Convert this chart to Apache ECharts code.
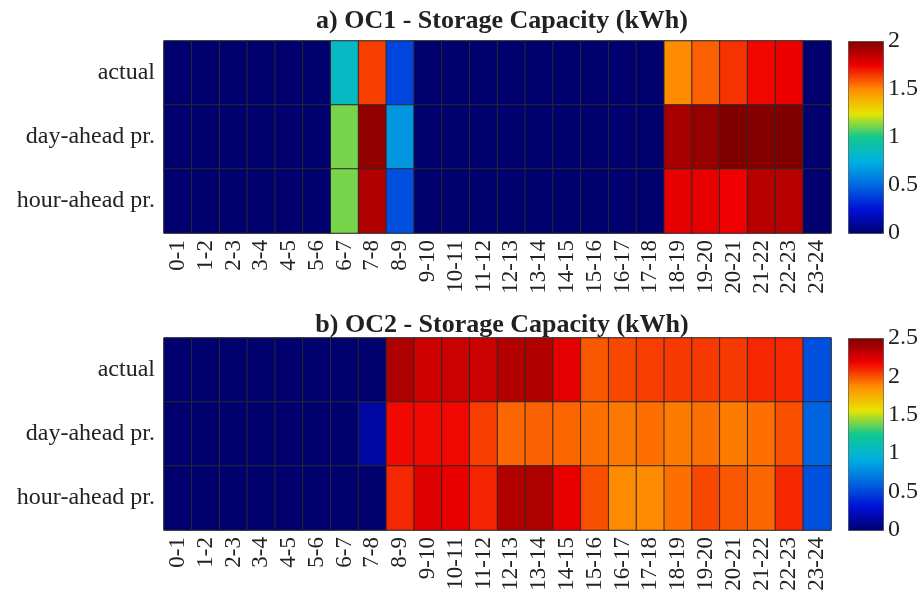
<!DOCTYPE html>
<html><head><meta charset="utf-8">
<script src="https://cdn.jsdelivr.net/npm/echarts@6/dist/echarts.min.js"></script>
<style>html,body{margin:0;padding:0;background:#fff}#c{width:921px;height:598px}</style>
</head><body><div id="c"></div>
<script>
const hours = ['0-1','1-2','2-3','3-4','4-5','5-6','6-7','7-8','8-9','9-10','10-11','11-12','12-13','13-14','14-15','15-16','16-17','17-18','18-19','19-20','20-21','21-22','22-23','23-24'];
const rows = ['actual','day-ahead pr.','hour-ahead pr.'];
const titleA = 'a) OC1 - Storage Capacity (kWh)';
const titleB = 'b) OC2 - Storage Capacity (kWh)';
const maxA = 2, maxB = 2.5;

// OC1
const oc1Actual   = [0,0,0,0,0,0,0.84,1.64,0.40,0,0,0,0,0,0,0,0,0,1.50,1.58,1.66,1.74,1.76,0];
const oc1DayAhead = [0,0,0,0,0,0,1.12,1.96,0.66,0,0,0,0,0,0,0,0,0,1.91,1.95,2.00,1.99,2.00,0];
const oc1HourAhead= [0,0,0,0,0,0,1.12,1.89,0.43,0,0,0,0,0,0,0,0,0,1.77,1.77,1.75,1.88,1.88,0];
// OC2
const oc2Actual   = [0,0,0,0,0,0,0,0,2.37,2.28,2.29,2.29,2.36,2.36,2.22,1.99,2.03,2.05,2.06,2.06,2.06,2.10,2.10,0.54];
const oc2DayAhead = [0,0,0,0,0,0,0,0.15,2.17,2.17,2.17,2.05,1.96,1.97,1.96,1.94,1.92,1.94,1.91,1.94,1.91,1.94,2.01,0.61];
const oc2HourAhead= [0,0,0,0,0,0,0,0,2.10,2.24,2.21,2.11,2.36,2.37,2.21,2.01,1.875,1.875,1.94,2.03,1.99,1.96,2.10,0.54];

const jet = ['#00006e','#0010d8','#0068e0','#00b0e0','#10c890','#e8e400','#ff8c00','#f00000','#800000'];
const serif = '"Liberation Serif","DejaVu Serif",serif';

function cells(list){
  const out=[];
  list.forEach((arr,r)=>arr.forEach((v,c)=>out.push([c,r,v])));
  return out;
}
const chart = echarts.init(document.getElementById('c'));
const L=164, W=667, H=192, TA=41, TB=338, CB=848, CBW=35;
const textCol='#222';
function xAx(gi){return {type:'category',gridIndex:gi,data:hours,axisTick:{show:false},axisLine:{show:false},
  axisLabel:{rotate:90,fontFamily:serif,fontSize:23,color:textCol,margin:7,interval:0},splitArea:{show:false}};}
function yAx(gi){return {type:'category',gridIndex:gi,data:rows,inverse:true,axisTick:{show:false},axisLine:{show:false},
  axisLabel:{fontFamily:serif,fontSize:24,color:textCol,margin:9},splitArea:{show:false}};}
function cbY(gi,max){return {type:'value',gridIndex:gi,min:0,max:max,interval:0.5,position:'right',
  axisLine:{show:false},axisTick:{show:false},splitLine:{show:false},
  axisLabel:{fontFamily:serif,fontSize:24,color:textCol,margin:6}};}
chart.setOption({
  animation:false,
  backgroundColor:'#fff',
  title:[
    {text:titleA,left:497,top:3,textAlign:'center',textStyle:{fontFamily:serif,fontSize:26,fontWeight:'bold',color:textCol}},
    {text:titleB,left:497,top:307,textAlign:'center',textStyle:{fontFamily:serif,fontSize:26,fontWeight:'bold',color:textCol}}
  ],
  grid:[
    {left:L,top:TA,width:W,height:H,show:true,borderColor:'#777',borderWidth:1,backgroundColor:'transparent'},
    {left:L,top:TB,width:W,height:H,show:true,borderColor:'#777',borderWidth:1,backgroundColor:'transparent'},
    {left:CB,top:TA,width:CBW,height:H},
    {left:CB,top:TB,width:CBW,height:H}
  ],
  xAxis:[xAx(0),xAx(1),
    {type:'value',gridIndex:2,show:false,min:0,max:1},
    {type:'value',gridIndex:3,show:false,min:0,max:1}],
  yAxis:[yAx(0),yAx(1),cbY(2,maxA),cbY(3,maxB)],
  visualMap:[
    {type:'continuous',seriesIndex:0,min:0,max:maxA,calculable:false,orient:'vertical',
     left:CB,top:TA,itemWidth:CBW,itemHeight:H,padding:0,borderWidth:1,borderColor:'#444',
     text:null,showLabel:false,inRange:{color:jet}},
    {type:'continuous',seriesIndex:1,min:0,max:maxB,calculable:false,orient:'vertical',
     left:CB,top:TB,itemWidth:CBW,itemHeight:H,padding:0,borderWidth:1,borderColor:'#444',
     text:null,showLabel:false,inRange:{color:jet}}
  ],
  series:[
    {type:'heatmap',xAxisIndex:0,yAxisIndex:0,data:cells([oc1Actual,oc1DayAhead,oc1HourAhead]),
     itemStyle:{borderColor:'#2a2a2a',borderWidth:1},emphasis:{disabled:true}},
    {type:'heatmap',xAxisIndex:1,yAxisIndex:1,data:cells([oc2Actual,oc2DayAhead,oc2HourAhead]),
     itemStyle:{borderColor:'#2a2a2a',borderWidth:1},emphasis:{disabled:true}}
  ]
});
</script></body></html>
